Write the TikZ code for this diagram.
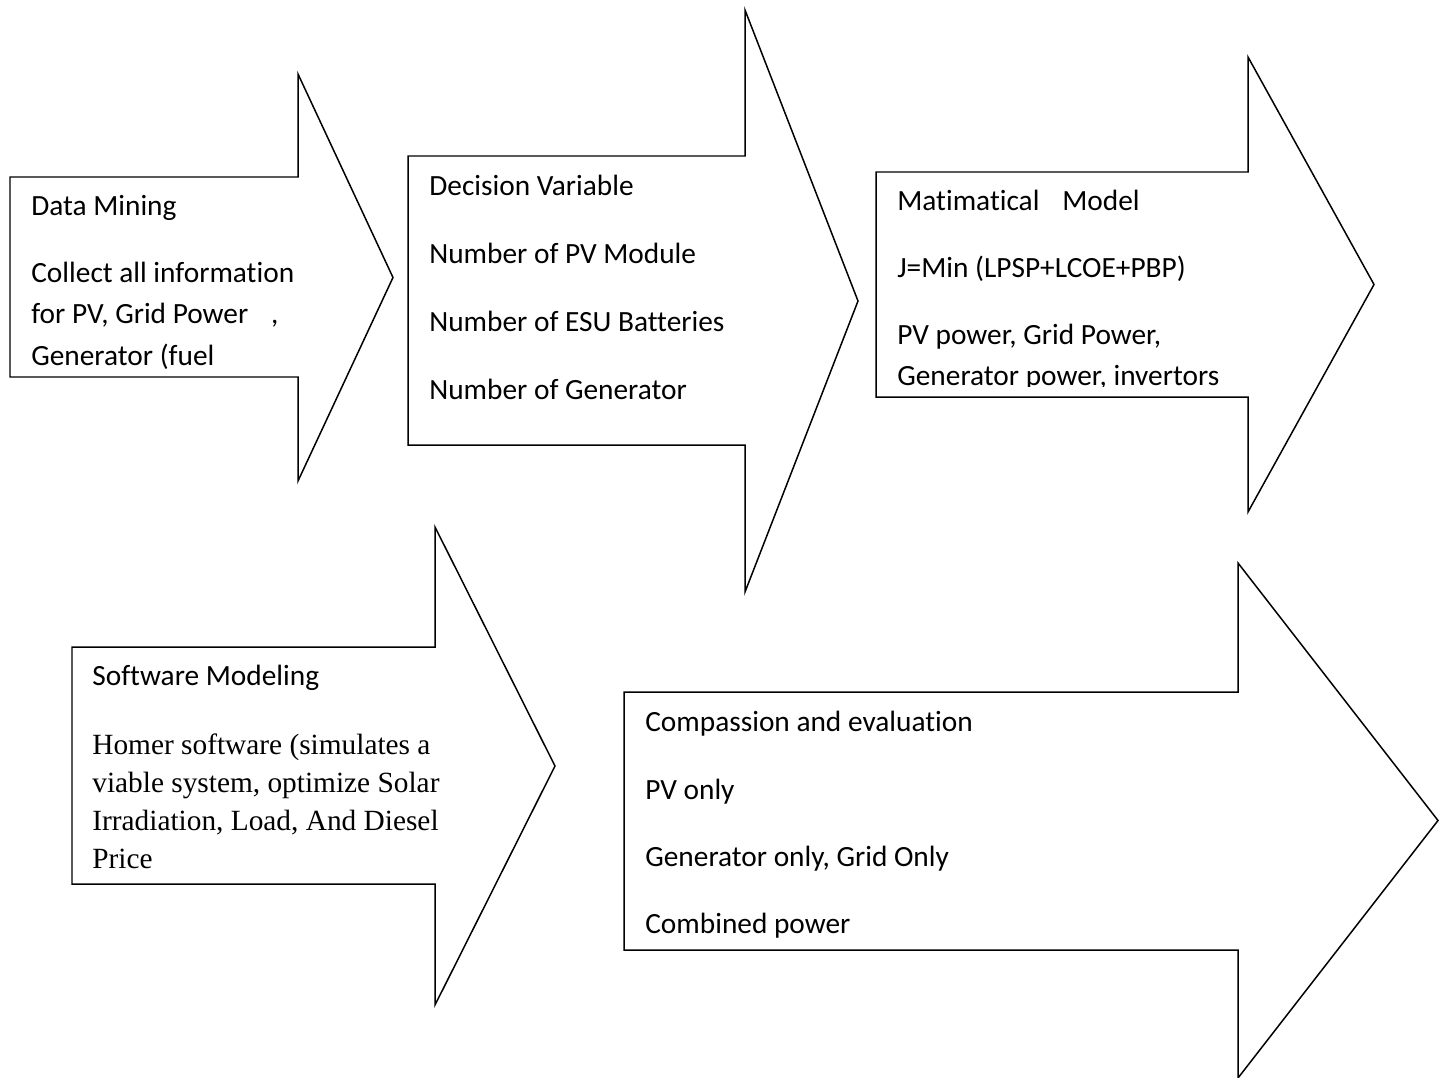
\documentclass[tikz,border=0pt]{standalone}
\usepackage{fontspec}
\setmainfont{Carlito}[Ligatures=NoCommon]
\newfontfamily\homerfont{Liberation Serif}
\usetikzlibrary{positioning}
\tikzset{
    outline/.style = {draw, line width=0.85pt, line join=miter},
    txt/.style = {anchor=base west, inner sep=0pt, font=\fontsize{16.7}{20}\selectfont},
    sertxt/.style = {anchor=base west, inner sep=0pt, font=\homerfont\fontsize{16.7}{20}\selectfont}
}
% block arrow: left, top, bottom, neck x, head top, head bottom, tip x
\def\flowarrow#1#2#3#4#5#6#7{%
    (#1,#2) -- (#4,#2) -- (#4,#5) -- (#7,{(#5+#6)/2}) -- (#4,#6) -- (#4,#3) -- (#1,#3) -- cycle
}

\begin{document}
\begin{tikzpicture}[x=0.02cm, y=-0.02cm]
    \path[fill=white] (0,0) rectangle (1440,1078);
    \useasboundingbox (0,0) rectangle (1440,1078);

    % the five arrows
    \draw[outline] \flowarrow{10}{177}{377}{298}{74}{481}{393};
    \draw[outline] \flowarrow{408}{156}{445}{745}{10}{592}{858};
    \draw[outline] \flowarrow{876}{172}{397}{1248}{57}{512}{1374};
    \draw[outline] \flowarrow{72}{647}{884}{435}{527}{1005}{555};
    \draw[outline] \flowarrow{624}{692}{950}{1238}{563}{1078}{1438};

    % Data Mining
    \foreach \yy/\txt [count=\i] in {215/{Data Mining}, 282/{Collect all information},
        323/{for PV, Grid Power\hspace{13pt},}, 365/{Generator (fuel}}{
        \node[txt] (data\i) at (31,\yy) {\txt};
    }
    % Decision Variable
    \foreach \yy/\txt [count=\i] in {195/{Decision Variable}, 263/{Number of PV Module},
        331/{Number of ESU Batteries}, 399/{Number of Generator}}{
        \node[txt] (dec\i) at (429,\yy) {\txt};
    }
    % Matimatical Model (last line cut by the box)
    \begin{scope}
        \clip (876,172) rectangle (1248,386.5);
        \foreach \yy/\txt [count=\i] in {210/{Matimatical\hspace{13pt}Model}, 277/{J=Min (LPSP+LCOE+PBP)},
            344/{PV power, Grid Power,}, 385/{Generator power, invertors}}{
            \node[txt] (math\i) at (897,\yy) {\txt};
        }
    \end{scope}
    % Software Modeling
    \node[txt] (soft0) at (92,685) {Software Modeling};
    \foreach \yy/\txt [count=\i] in {754/{Homer software (simulates a}, 792/{viable system, optimize Solar},
        830/{Irradiation, Load, And Diesel}, 868/{Price}}{
        \node[sertxt] (soft\i) at (92,\yy) {\txt};
    }
    % Compassion and evaluation
    \foreach \yy/\txt [count=\i] in {731/{Compassion and evaluation}, 799/{PV only},
        866/{Generator only, Grid Only}, 933/{Combined power}}{
        \node[txt] (comp\i) at (645,\yy) {\txt};
    }
\end{tikzpicture}
\end{document}
